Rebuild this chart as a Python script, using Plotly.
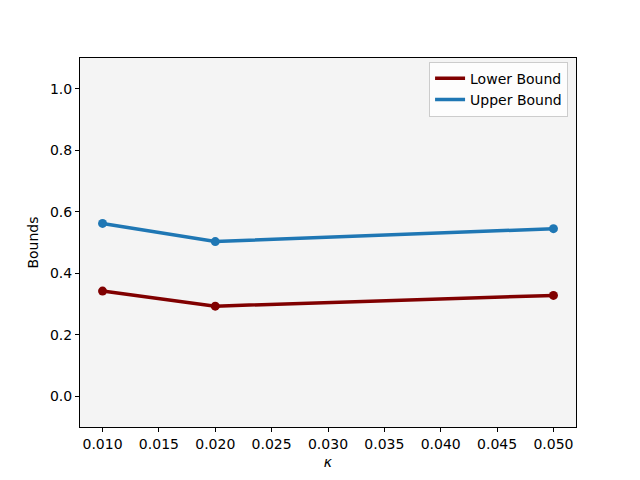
import plotly.graph_objects as go

kappa = [0.01, 0.02, 0.05]
lower = [0.342, 0.293, 0.328]
upper = [0.562, 0.503, 0.545]
x_ticks = [0.010, 0.015, 0.020, 0.025, 0.030, 0.035, 0.040, 0.045, 0.050]
y_ticks = [0.0, 0.2, 0.4, 0.6, 0.8, 1.0]

c_low = "#800000"
c_up = "#1f77b4"

fig = go.Figure()
for name, vals, col in [("Lower Bound", lower, c_low), ("Upper Bound", upper, c_up)]:
    fig.add_trace(go.Scatter(x=kappa, y=vals, mode="lines+markers", name=name,
                             line=dict(color=col, width=3.5), marker=dict(color=col, size=9),
                             showlegend=False))
    fig.add_trace(go.Scatter(x=[None], y=[None], mode="lines", name=name,
                             line=dict(color=col, width=3.5), showlegend=True))

axis_common = dict(showline=True, linecolor="black", linewidth=1, mirror=True,
                   ticks="outside", ticklen=4, tickcolor="black", showgrid=False,
                   zeroline=False, tickfont=dict(size=14, color="black"))

fig.update_layout(
    width=640, height=480,
    margin=dict(l=72, r=72, t=50, b=61),
    paper_bgcolor="white", plot_bgcolor="#f4f4f4",
    font=dict(family="DejaVu Sans", size=14, color="black"),
    xaxis=dict(range=[0.008, 0.052], tickvals=x_ticks,
               ticktext=[f"{v:.3f}" for v in x_ticks],
               title=dict(text="<i>κ</i>", font=dict(size=14), standoff=6), **axis_common),
    yaxis=dict(range=[-0.1, 1.1], tickvals=y_ticks,
               ticktext=[f"{v:.1f}" for v in y_ticks],
               title=dict(text="Bounds", font=dict(size=14), standoff=8), **axis_common),
    legend=dict(x=0.984, y=0.990, xanchor="right", yanchor="top",
                bgcolor="rgba(255,255,255,0.8)", bordercolor="#cccccc", borderwidth=1,
                font=dict(size=14), itemwidth=30, tracegroupgap=0),
    showlegend=True,
)

fig.write_html("out.html")
